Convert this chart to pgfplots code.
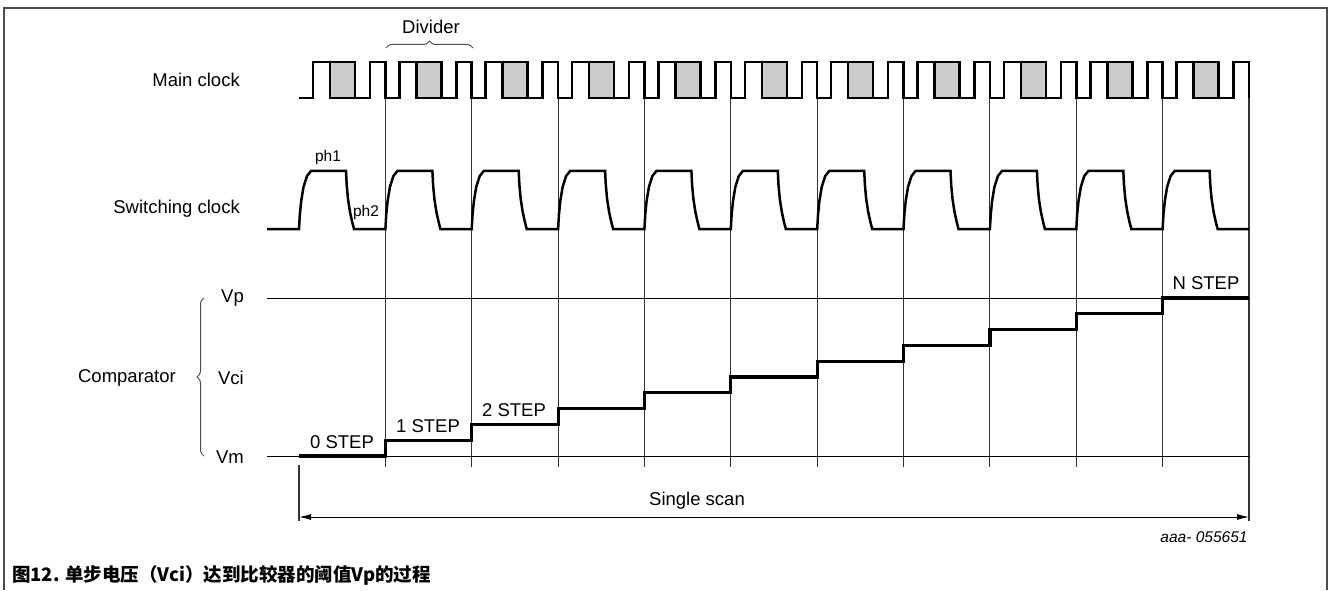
\documentclass[border=0pt]{standalone}
\usepackage{pgfplots}
\pgfplotsset{compat=1.18}
\usepackage{fontspec}
\setmainfont{Liberation Sans}
\newfontfamily\cjk{Noto Sans CJK SC}
\usetikzlibrary{arrows.meta,decorations.pathreplacing}
\newcommand\fs{\fontsize{18.5}{22}\selectfont}
\begin{document}
\begin{tikzpicture}
\begin{axis}[scale only axis, width=1329pt, height=590pt,
  xmin=0, xmax=1329, ymin=0, ymax=590, y dir=reverse,
  hide axis, clip=false, unbounded coords=jump]
\path (axis cs:0,0) -- (axis cs:1329,590);
% frame
\addplot[draw=black!70, line width=1.6pt] coordinates {(4,590)(4,8)(1327,8)(1327,590)};
% divider verticals
\addplot[draw=black!80, line width=1.1pt] coordinates {
(385.4,98)(385.4,467) (nan,nan)
(471.7,98)(471.7,467) (nan,nan)
(558.1,98)(558.1,467) (nan,nan)
(644.4,98)(644.4,467) (nan,nan)
(730.8,98)(730.8,467) (nan,nan)
(817.2,98)(817.2,467) (nan,nan)
(903.5,98)(903.5,467) (nan,nan)
(989.9,98)(989.9,467) (nan,nan)
(1076.3,98)(1076.3,467) (nan,nan)
(1162.6,98)(1162.6,467) (nan,nan)
(1249,98)(1249,521) (nan,nan)
(299,465)(299,521)};
% Vp and Vm
\addplot[draw=black, line width=1pt] coordinates {(267,298)(1249,298)};
\addplot[draw=black, line width=1pt] coordinates {(267,456)(1249,456)};
% staircase
\addplot[const plot, draw=black, line width=3.2pt] coordinates {
(299,456)(385.4,440.2)(471.7,424.4)(558.1,408.6)(644.4,392.8)(730.8,377)
(817.2,361.2)(903.5,345.4)(989.9,329.6)(1076.3,313.8)(1162.6,298)(1249,298)};
% shaded boxes of main clock
\addplot[fill=gray!40, draw=black, line width=2.5pt] coordinates {(330,62)(355,62)(355,98)(330,98)} -- cycle;
\addplot[fill=gray!40, draw=black, line width=2.5pt] coordinates {(416.4,62)(441.4,62)(441.4,98)(416.4,98)} -- cycle;
\addplot[fill=gray!40, draw=black, line width=2.5pt] coordinates {(502.7,62)(527.7,62)(527.7,98)(502.7,98)} -- cycle;
\addplot[fill=gray!40, draw=black, line width=2.5pt] coordinates {(589.1,62)(614.1,62)(614.1,98)(589.1,98)} -- cycle;
\addplot[fill=gray!40, draw=black, line width=2.5pt] coordinates {(675.4,62)(700.4,62)(700.4,98)(675.4,98)} -- cycle;
\addplot[fill=gray!40, draw=black, line width=2.5pt] coordinates {(761.8,62)(786.8,62)(786.8,98)(761.8,98)} -- cycle;
\addplot[fill=gray!40, draw=black, line width=2.5pt] coordinates {(848.2,62)(873.2,62)(873.2,98)(848.2,98)} -- cycle;
\addplot[fill=gray!40, draw=black, line width=2.5pt] coordinates {(934.5,62)(959.5,62)(959.5,98)(934.5,98)} -- cycle;
\addplot[fill=gray!40, draw=black, line width=2.5pt] coordinates {(1020.9,62)(1045.9,62)(1045.9,98)(1020.9,98)} -- cycle;
\addplot[fill=gray!40, draw=black, line width=2.5pt] coordinates {(1107.3,62)(1132.3,62)(1132.3,98)(1107.3,98)} -- cycle;
\addplot[fill=gray!40, draw=black, line width=2.5pt] coordinates {(1193.6,62)(1218.6,62)(1218.6,98)(1193.6,98)} -- cycle;
% main clock
\addplot[draw=black, line width=2.5pt] coordinates {
(299,98)(313,98)(313,62)(355,62)(355,98)(370,98)(370,62)(385.4,62)(385.4,98)
(399.4,98)(399.4,62)(441.4,62)(441.4,98)(456.4,98)(456.4,62)(471.7,62)(471.7,98)
(485.7,98)(485.7,62)(527.7,62)(527.7,98)(542.7,98)(542.7,62)(558.1,62)(558.1,98)
(572.1,98)(572.1,62)(614.1,62)(614.1,98)(629.1,98)(629.1,62)(644.4,62)(644.4,98)
(658.4,98)(658.4,62)(700.4,62)(700.4,98)(715.4,98)(715.4,62)(730.8,62)(730.8,98)
(744.8,98)(744.8,62)(786.8,62)(786.8,98)(801.8,98)(801.8,62)(817.2,62)(817.2,98)
(831.2,98)(831.2,62)(873.2,62)(873.2,98)(888.2,98)(888.2,62)(903.5,62)(903.5,98)
(917.5,98)(917.5,62)(959.5,62)(959.5,98)(974.5,98)(974.5,62)(989.9,62)(989.9,98)
(1003.9,98)(1003.9,62)(1045.9,62)(1045.9,98)(1060.9,98)(1060.9,62)(1076.3,62)(1076.3,98)
(1090.3,98)(1090.3,62)(1132.3,62)(1132.3,98)(1147.3,98)(1147.3,62)(1162.6,62)(1162.6,98)
(1176.6,98)(1176.6,62)(1218.6,62)(1218.6,98)(1233.6,98)(1233.6,62)(1249,62)(1249,98)};
% switching clock
\addplot[draw=black, line width=2.5pt] coordinates {
(267,229)
(299,229)(299.8,215)(301.2,201)(303.5,187)(307,176)(311,171)(346,171)(346.7,185)(348,199)(350,212)(352.2,222)(354,229)
(385.4,229)(386.2,215)(387.6,201)(389.9,187)(393.4,176)(397.4,171)(432.4,171)(433.1,185)(434.4,199)(436.4,212)(438.6,222)(440.4,229)
(471.7,229)(472.5,215)(473.9,201)(476.2,187)(479.7,176)(483.7,171)(518.7,171)(519.4,185)(520.7,199)(522.7,212)(524.9,222)(526.7,229)
(558.1,229)(558.9,215)(560.3,201)(562.6,187)(566.1,176)(570.1,171)(605.1,171)(605.8,185)(607.1,199)(609.1,212)(611.3,222)(613.1,229)
(644.4,229)(645.2,215)(646.6,201)(648.9,187)(652.4,176)(656.4,171)(691.4,171)(692.1,185)(693.4,199)(695.4,212)(697.6,222)(699.4,229)
(730.8,229)(731.6,215)(733.0,201)(735.3,187)(738.8,176)(742.8,171)(777.8,171)(778.5,185)(779.8,199)(781.8,212)(784.0,222)(785.8,229)
(817.2,229)(818.0,215)(819.4,201)(821.7,187)(825.2,176)(829.2,171)(864.2,171)(864.9,185)(866.2,199)(868.2,212)(870.4,222)(872.2,229)
(903.5,229)(904.3,215)(905.7,201)(908.0,187)(911.5,176)(915.5,171)(950.5,171)(951.2,185)(952.5,199)(954.5,212)(956.7,222)(958.5,229)
(989.9,229)(990.7,215)(992.1,201)(994.4,187)(997.9,176)(1001.9,171)(1036.9,171)(1037.6,185)(1038.9,199)(1040.9,212)(1043.1,222)(1044.9,229)
(1076.3,229)(1077.1,215)(1078.5,201)(1080.8,187)(1084.3,176)(1088.3,171)(1123.3,171)(1124.0,185)(1125.3,199)(1127.3,212)(1129.5,222)(1131.3,229)
(1162.6,229)(1163.4,215)(1164.8,201)(1167.1,187)(1170.6,176)(1174.6,171)(1209.6,171)(1210.3,185)(1211.6,199)(1213.6,212)(1215.8,222)(1217.6,229)(1249,229)};
% single scan arrow
\addplot[draw=black, line width=1pt, {Latex[length=12pt,width=6pt]}-{Latex[length=12pt,width=6pt]}] coordinates {(299,517)(1249,517)};
% braces
\draw[black!70, line width=1pt, decorate, decoration={brace, amplitude=7pt}] (axis cs:386,48) -- (axis cs:473,48);
\draw[black!70, line width=1pt, decorate, decoration={brace, amplitude=7pt}] (axis cs:204,456) -- (axis cs:204,298);
% texts
\node[font=\fs, inner sep=0pt] at (axis cs:431,27) {Divider};
\node[font=\fs, inner sep=0pt, anchor=east] at (axis cs:240,80) {Main clock};
\node[font=\fs, inner sep=0pt, anchor=east] at (axis cs:240,209) {Switching clock};
\node[font=\fontsize{15.5}{18}\selectfont, inner sep=0pt] at (axis cs:328,157) {ph1};
\node[font=\fontsize{15.5}{18}\selectfont, inner sep=0pt] at (axis cs:366,212) {ph2};
\node[font=\fs, inner sep=0pt, anchor=east] at (axis cs:244,298) {Vp};
\node[font=\fs, inner sep=0pt, anchor=east] at (axis cs:244,378) {Vci};
\node[font=\fs, inner sep=0pt, anchor=east] at (axis cs:244,457) {Vm};
\node[font=\fs, inner sep=0pt, anchor=east] at (axis cs:176,378) {Comparator};
\node[font=\fs, inner sep=0pt] at (axis cs:342,442) {0 STEP};
\node[font=\fs, inner sep=0pt] at (axis cs:428,426) {1 STEP};
\node[font=\fs, inner sep=0pt] at (axis cs:514,410) {2 STEP};
\node[font=\fs, inner sep=0pt] at (axis cs:1206,283) {N STEP};
\node[font=\fs, inner sep=0pt] at (axis cs:697,501) {Single scan};
\node[font=\fontsize{15.5}{18}\selectfont\itshape, inner sep=0pt] at (axis cs:1204,537) {aaa- 055651};
\node[anchor=west, inner sep=0pt, font=\fontsize{18.5}{22}\selectfont\cjk\bfseries] at (axis cs:12,575) {图12. 单步电压（Vci）达到比较器的阈值Vp的过程};
\end{axis}
\end{tikzpicture}
\end{document}
